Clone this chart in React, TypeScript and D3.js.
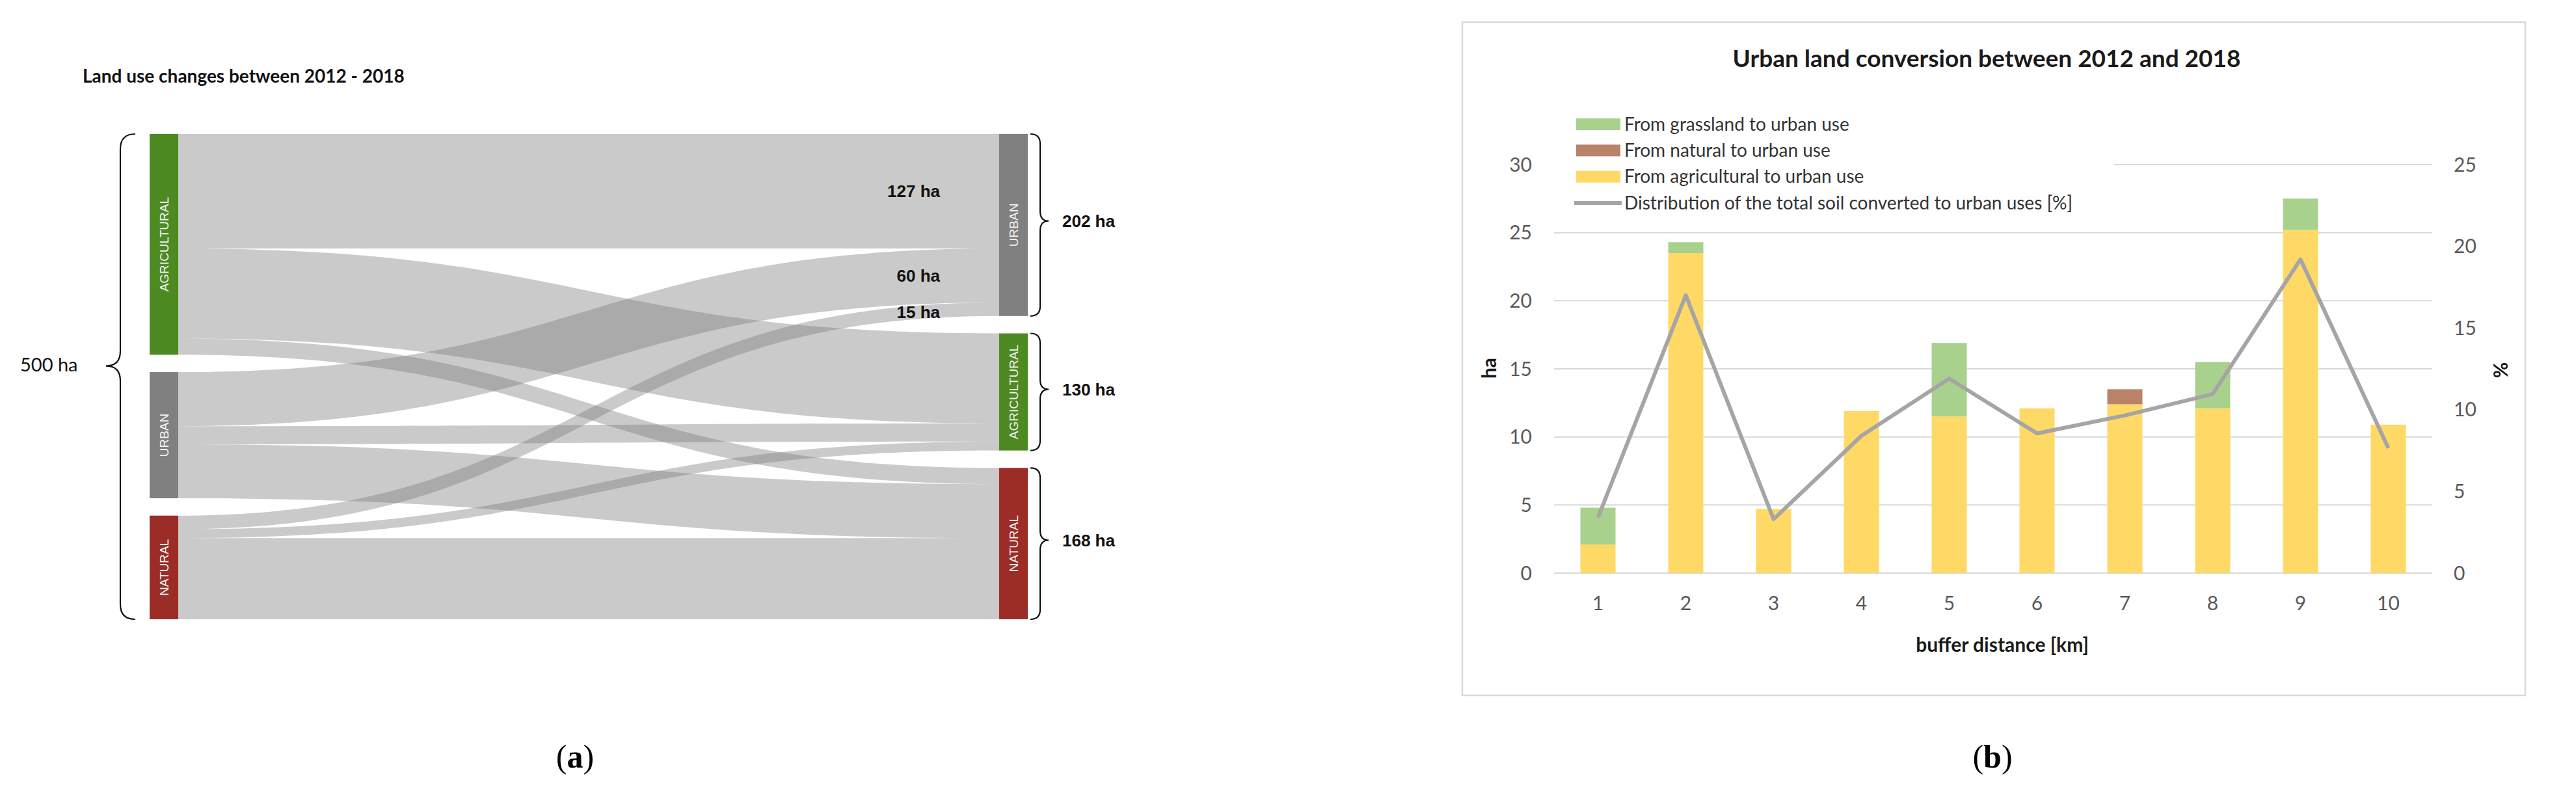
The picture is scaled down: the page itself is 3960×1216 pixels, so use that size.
import React, { useEffect, useRef } from "react";
import * as d3 from "d3";

const W = 3960;
const H = 1216;

// ---- panel (a): land use flows 2012 -> 2018 (ha)
const sankeyTitle = "Land use changes between 2012 - 2018";
const classes2012 = ["AGRICULTURAL", "URBAN", "NATURAL"];
const classes2018 = ["URBAN", "AGRICULTURAL", "NATURAL"];
const flowFrom = ["AGRICULTURAL", "AGRICULTURAL", "AGRICULTURAL", "URBAN", "URBAN", "URBAN", "NATURAL", "NATURAL", "NATURAL"];
const flowTo = ["URBAN", "AGRICULTURAL", "NATURAL", "URBAN", "AGRICULTURAL", "NATURAL", "URBAN", "AGRICULTURAL", "NATURAL"];
const flowHa = [127, 100, 18, 60, 20, 60, 15, 10, 90];
const labelledTarget = "URBAN";

// ---- panel (b): urban conversion by buffer distance
const chartTitle = "Urban land conversion between 2012 and 2018";
const distances = ["1", "2", "3", "4", "5", "6", "7", "8", "9", "10"];
const agriToUrban = [2.1, 23.5, 4.7, 11.9, 11.5, 12.1, 12.4, 12.1, 25.2, 10.9];
const naturalToUrban = [0, 0, 0, 0, 0, 0, 1.1, 0, 0, 0];
const grassToUrban = [2.7, 0.8, 0, 0, 5.4, 0, 0, 3.4, 2.3, 0];
const sharePct = [3.4, 17.0, 3.3, 8.4, 11.9, 8.55, 9.65, 10.95, 19.2, 7.65];
const haTicks = [0, 5, 10, 15, 20, 25, 30];
const pctTicks = [0, 5, 10, 15, 20, 25];
const legendNames = [
  "From grassland to urban use",
  "From natural to urban use",
  "From agricultural to urban use",
  "Distribution of the total soil converted to urban uses [%]",
];

const classColor: Record<string, string> = {
  AGRICULTURAL: "#4e8a22",
  URBAN: "#808080",
  NATURAL: "#9b2c26",
};
const seriesColor = { grass: "#a9d18e", natural: "#b9836a", agri: "#ffd966", line: "#a5a5a5" };

const CALIBRI = "Lato, 'Open Sans', sans-serif";
const ARIAL = "'Liberation Sans', Arial, sans-serif";

function bracePath(xEnd: number, xSpine: number, xTip: number, y0: number, y1: number, yTip: number) {
  const r = Math.abs(xEnd - xSpine);
  return `M${xEnd},${y0} Q${xSpine},${y0} ${xSpine},${y0 + r} L${xSpine},${yTip - r} Q${xSpine},${yTip} ${xTip},${yTip} Q${xSpine},${yTip} ${xSpine},${yTip + r} L${xSpine},${y1 - r} Q${xSpine},${y1} ${xEnd},${y1}`;
}

export default function App() {
  const svgRef = useRef<SVGSVGElement>(null);

  useEffect(() => {
    const svg = d3.select(svgRef.current);
    svg.selectAll("*").remove();

    // ================= panel (a) =================
    const sk = { top: 206, bottom: 952, xL: 230, xR: 1536, nodeW: 44, gap: 26.7 };
    const flows = flowHa.map((ha, i) => ({ from: flowFrom[i], to: flowTo[i], ha, sy: 0, ty: 0 }));
    const total = d3.sum(flowHa);
    const hScale = d3.scaleLinear().domain([0, total]).range([0, sk.bottom - sk.top - 2 * sk.gap]);

    const layoutNodes = (names: string[], key: "from" | "to") => {
      let y = sk.top;
      return names.map((name) => {
        const value = d3.sum(flows.filter((f) => f[key] === name), (f) => f.ha);
        const node = { name, value, y0: y, y1: y + hScale(value) };
        y = node.y1 + sk.gap;
        return node;
      });
    };
    const left = layoutNodes(classes2012, "from");
    const right = layoutNodes(classes2018, "to");

    // stack link ends on each node
    left.forEach((n) => {
      let y = n.y0;
      flows
        .filter((f) => f.from === n.name)
        .sort((a, b) => classes2018.indexOf(a.to) - classes2018.indexOf(b.to))
        .forEach((f) => { f.sy = y; y += hScale(f.ha); });
    });
    right.forEach((n) => {
      let y = n.y0;
      flows
        .filter((f) => f.to === n.name)
        .sort((a, b) => classes2012.indexOf(a.from) - classes2012.indexOf(b.from))
        .forEach((f) => { f.ty = y; y += hScale(f.ha); });
    });

    const gA = svg.append("g");
    gA.append("text")
      .attr("x", 127).attr("y", 127)
      .attr("font-family", CALIBRI).attr("font-weight", 700).attr("font-size", 28)
      .attr("fill", "#111")
      .text(sankeyTitle);

    const x0 = sk.xL + sk.nodeW;
    const x1 = sk.xR;
    const xm = (x0 + x1) / 2;
    gA.append("g")
      .selectAll("path")
      .data(flows)
      .join("path")
      .attr("d", (f) => {
        const w = hScale(f.ha);
        return `M${x0},${f.sy} C${xm},${f.sy} ${xm},${f.ty} ${x1},${f.ty} L${x1},${f.ty + w} C${xm},${f.ty + w} ${xm},${f.sy + w} ${x0},${f.sy + w} Z`;
      })
      .attr("fill", "#7a7a7a")
      .attr("fill-opacity", 0.4);

    const drawNodes = (nodes: typeof left, x: number) => {
      const g = gA.append("g");
      g.selectAll("rect")
        .data(nodes)
        .join("rect")
        .attr("x", x).attr("y", (d) => d.y0)
        .attr("width", sk.nodeW).attr("height", (d) => d.y1 - d.y0)
        .attr("fill", (d) => classColor[d.name]);
      g.selectAll("text")
        .data(nodes)
        .join("text")
        .attr("transform", (d) => `translate(${x + sk.nodeW / 2},${(d.y0 + d.y1) / 2}) rotate(-90)`)
        .attr("text-anchor", "middle").attr("dy", "0.36em")
        .attr("font-family", ARIAL).attr("font-size", 19)
        .attr("fill", "#f4f4f4")
        .text((d) => d.name);
    };
    drawNodes(left, sk.xL);
    drawNodes(right, sk.xR);

    // flow labels on links entering the urban node
    gA.append("g")
      .selectAll("text")
      .data(flows.filter((f) => f.to === labelledTarget))
      .join("text")
      .attr("x", x1 - 91)
      .attr("y", (f) => f.ty + hScale(f.ha) / 2 + (f.ha < 30 ? 4 : 0))
      .attr("dy", "0.36em")
      .attr("text-anchor", "end")
      .attr("font-family", ARIAL).attr("font-weight", 700).attr("font-size", 26)
      .attr("fill", "#111")
      .text((f) => `${f.ha} ha`);

    // braces + totals
    const tipFrac = 0.478;
    const leftTip = sk.top + (sk.bottom - sk.top) * tipFrac;
    gA.append("path")
      .attr("d", bracePath(208, 185, 163, sk.top, sk.bottom, leftTip))
      .attr("fill", "none").attr("stroke", "#111").attr("stroke-width", 2.2);
    gA.append("text")
      .attr("x", 31).attr("y", leftTip).attr("dy", "0.3em")
      .attr("font-family", CALIBRI).attr("font-size", 29).attr("fill", "#111")
      .text(`${total} ha`);

    const rg = gA.append("g");
    right.forEach((n) => {
      const tip = n.y0 + (n.y1 - n.y0) * tipFrac;
      rg.append("path")
        .attr("d", bracePath(1584, 1599, 1612, n.y0, n.y1, tip))
        .attr("fill", "none").attr("stroke", "#111").attr("stroke-width", 2.2);
      rg.append("text")
        .attr("x", 1633).attr("y", tip).attr("dy", "0.36em")
        .attr("font-family", ARIAL).attr("font-weight", 700).attr("font-size", 26)
        .attr("fill", "#111")
        .text(`${n.value} ha`);
    });

    // ================= panel (b) =================
    const box = { x: 2248, y: 34, w: 1634, h: 1035 };
    const plot = { l: 2389, r: 3739, top: 253, bottom: 881 };
    const gB = svg.append("g");
    gB.append("rect")
      .attr("x", box.x).attr("y", box.y).attr("width", box.w).attr("height", box.h)
      .attr("fill", "#fff").attr("stroke", "#d9d9d9").attr("stroke-width", 2.5);

    gB.append("text")
      .attr("x", 3054).attr("y", 103)
      .attr("text-anchor", "middle")
      .attr("font-family", CALIBRI).attr("font-weight", 700).attr("font-size", 37)
      .attr("fill", "#1a1a1a")
      .text(chartTitle);

    const x = d3.scaleBand().domain(distances).range([plot.l, plot.r]).paddingInner(0.6).paddingOuter(0.3);
    const yHa = d3.scaleLinear().domain([0, 30]).range([plot.bottom, plot.top]);
    const yPct = d3.scaleLinear().domain([0, 25]).range([plot.bottom, plot.top]);

    // gridlines
    gB.append("g")
      .selectAll("line")
      .data(haTicks)
      .join("line")
      .attr("x1", plot.l).attr("x2", plot.r)
      .attr("y1", (d) => yHa(d)).attr("y2", (d) => yHa(d))
      .attr("stroke", "#d9d9d9").attr("stroke-width", 2);

    // left axis labels
    gB.append("g")
      .selectAll("text")
      .data(haTicks)
      .join("text")
      .attr("x", 2355).attr("y", (d) => yHa(d)).attr("dy", "0.35em")
      .attr("text-anchor", "end")
      .attr("font-family", CALIBRI).attr("font-size", 30).attr("fill", "#595959")
      .text((d) => d);
    // right axis labels
    gB.append("g")
      .selectAll("text")
      .data(pctTicks)
      .join("text")
      .attr("x", 3772).attr("y", (d) => yPct(d)).attr("dy", "0.35em")
      .attr("font-family", CALIBRI).attr("font-size", 30).attr("fill", "#595959")
      .text((d) => d);
    // x labels
    gB.append("g")
      .selectAll("text")
      .data(distances)
      .join("text")
      .attr("x", (d) => (x(d) as number) + x.bandwidth() / 2).attr("y", 927).attr("dy", "0.35em")
      .attr("text-anchor", "middle")
      .attr("font-family", CALIBRI).attr("font-size", 30).attr("fill", "#595959")
      .text((d) => d);

    gB.append("text")
      .attr("transform", "translate(2289,566) rotate(-90)")
      .attr("text-anchor", "middle").attr("dy", "0.35em")
      .attr("font-family", CALIBRI).attr("font-weight", 700).attr("font-size", 30).attr("fill", "#1a1a1a")
      .text("ha");
    gB.append("text")
      .attr("transform", "translate(3843,569) rotate(90)")
      .attr("text-anchor", "middle").attr("dy", "0.35em")
      .attr("font-family", CALIBRI).attr("font-weight", 700).attr("font-size", 30).attr("fill", "#1a1a1a")
      .text("%");
    gB.append("text")
      .attr("x", 3078).attr("y", 1002)
      .attr("text-anchor", "middle")
      .attr("font-family", CALIBRI).attr("font-weight", 700).attr("font-size", 30).attr("fill", "#1a1a1a")
      .text("buffer distance [km]");

    // stacked bars
    const rows = distances.map((d, i) => ({ d, agri: agriToUrban[i], natural: naturalToUrban[i], grass: grassToUrban[i] }));
    const stack = d3.stack<any>().keys(["agri", "natural", "grass"])(rows);
    gB.append("g")
      .selectAll("g")
      .data(stack)
      .join("g")
      .attr("fill", (s) => (seriesColor as any)[s.key])
      .selectAll("rect")
      .data((s) => s)
      .join("rect")
      .attr("x", (p: any) => x(p.data.d) as number)
      .attr("width", x.bandwidth())
      .attr("y", (p) => yHa(p[1]))
      .attr("height", (p) => yHa(p[0]) - yHa(p[1]));

    // distribution line
    const line = d3.line<number>()
      .x((_, i) => (x(distances[i]) as number) + x.bandwidth() / 2)
      .y((v) => yPct(v));
    gB.append("path")
      .attr("d", line(sharePct))
      .attr("fill", "none").attr("stroke", seriesColor.line)
      .attr("stroke-width", 6).attr("stroke-linejoin", "round");

    // legend
    const lg = gB.append("g");
    lg.append("rect").attr("x", 2386).attr("y", 160).attr("width", 864).attr("height", 178).attr("fill", "#fff");
    const legendKeys = ["grass", "natural", "agri", "line"];
    const rowY = d3.scalePoint().domain(legendKeys).range([191, 312]);
    legendKeys.forEach((k, i) => {
      const cy = rowY(k) as number;
      if (k === "line") {
        lg.append("line").attr("x1", 2420).attr("x2", 2493).attr("y1", cy).attr("y2", cy)
          .attr("stroke", seriesColor.line).attr("stroke-width", 6);
      } else {
        lg.append("rect").attr("x", 2423).attr("y", cy - 9).attr("width", 68).attr("height", 18)
          .attr("fill", (seriesColor as any)[k]);
      }
      lg.append("text")
        .attr("x", 2497).attr("y", cy).attr("dy", "0.35em")
        .attr("font-family", CALIBRI).attr("font-size", 28).attr("fill", "#333")
        .text(legendNames[i]);
    });

    // captions
    const caps = [{ l: "a", x: 884 }, { l: "b", x: 3063 }];
    caps.forEach((c) => {
      const t = svg.append("text")
        .attr("x", c.x).attr("y", 1180)
        .attr("text-anchor", "middle")
        .attr("font-family", "'Liberation Serif', 'DejaVu Serif', serif").attr("font-size", 50)
        .attr("fill", "#000");
      t.append("tspan").text("(");
      t.append("tspan").attr("font-weight", 700).text(c.l);
      t.append("tspan").text(")");
    });
  }, []);

  return (
    <svg
      ref={svgRef}
      width={W}
      height={H}
      style={{ position: "absolute", left: 0, top: 0, background: "#fff", display: "block" }}
    />
  );
}
